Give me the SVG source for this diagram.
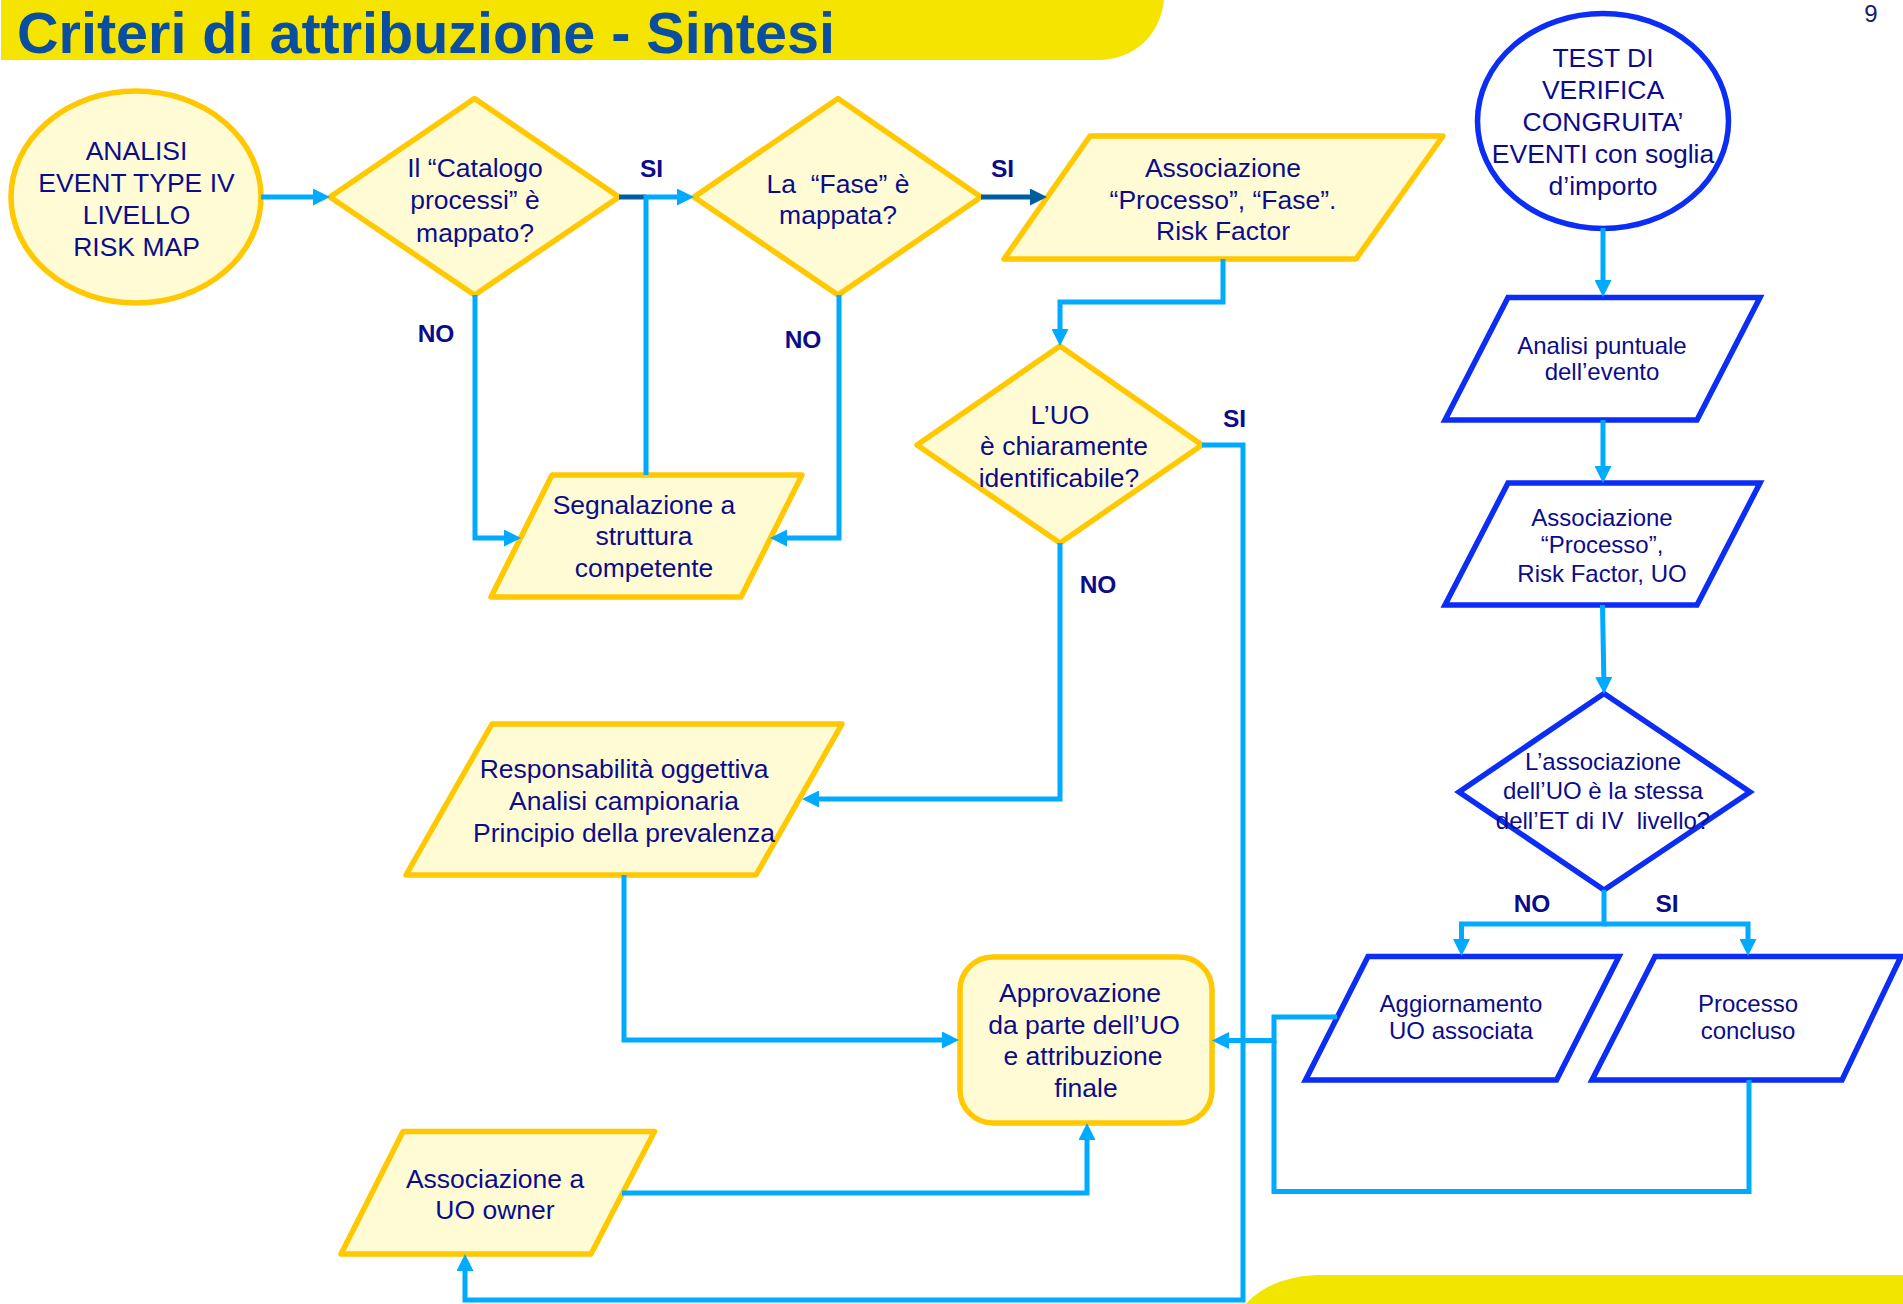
<svg xmlns="http://www.w3.org/2000/svg" width="1903" height="1304" viewBox="0 0 1903 1304">
<defs>
<style>
.yn{fill:#fffcd5;stroke:#ffc800;stroke-width:5.5;stroke-linejoin:round}
.bn{fill:#ffffff;stroke:#0b2df5;stroke-width:5.5;stroke-linejoin:miter}
.t{font-family:"Liberation Sans",Arial,sans-serif;fill:#0c0c8a;text-anchor:middle}
.ty{font-size:26.5px}
.tb{font-size:24px}
.te{font-size:26.5px}
.lbl{font-family:"Liberation Sans",Arial,sans-serif;font-weight:bold;font-size:24.5px;fill:#0c0c8a;text-anchor:middle}
.c{fill:none;stroke:#00aaff;stroke-width:5}
.cd{fill:none;stroke:#005e9f;stroke-width:5}
</style>
<marker id="ah" markerUnits="userSpaceOnUse" markerWidth="17" markerHeight="17" refX="11" refY="8.5" orient="auto"><path d="M0,0 L17,8.5 L0,17 Z" fill="#00aaff"/></marker>
<marker id="ahd" markerUnits="userSpaceOnUse" markerWidth="17" markerHeight="17" refX="11" refY="8.5" orient="auto"><path d="M0,0 L17,8.5 L0,17 Z" fill="#005e9f"/></marker>
</defs>
<rect x="0" y="0" width="1903" height="1304" fill="#ffffff"/>
<g id="decor">
<path d="M1,0 H1164 C1161,28 1142,58 1100,60 H1 Z" fill="#f5e300"/>
<path d="M1246,1304 C1258,1290 1282,1276 1318,1275 H1903 V1304 Z" fill="#f2e500"/>
<text x="17" y="52.5" font-family="Liberation Sans, Arial, sans-serif" font-weight="bold" font-size="57.5" fill="#0a4f9f">Criteri di attribuzione - Sintesi</text>
<text x="1871" y="22" font-family="Liberation Sans, Arial, sans-serif" font-size="24" fill="#1a1a70" text-anchor="middle">9</text>
</g>

<g id="n-analisi">
<ellipse class="yn" cx="136" cy="197" rx="125" ry="106"/>
<text class="t ty"><tspan x="136.5" y="160">ANALISI</tspan><tspan x="136.5" y="192">EVENT TYPE IV</tspan><tspan x="136.5" y="224">LIVELLO</tspan><tspan x="136.5" y="255.5">RISK MAP</tspan></text>
</g>
<g id="n-catalogo">
<polygon class="yn" points="474.5,98.5 619,197 474.5,295 330,197"/>
<text class="t ty"><tspan x="475" y="176.7">Il “Catalogo</tspan><tspan x="475" y="209">processi” è</tspan><tspan x="475" y="241.5">mappato?</tspan></text>
</g>
<g id="n-fase">
<polygon class="yn" points="838,98.5 981,197 838,295 694,197"/>
<text class="t ty"><tspan x="838" y="193.3">La &#160;“Fase” è</tspan><tspan x="838" y="224">mappata?</tspan></text>
</g>
<g id="n-assoc-fase">
<polygon class="yn" points="1090,136 1443,136 1356,259 1004,259"/>
<text class="t ty"><tspan x="1223" y="177">Associazione</tspan><tspan x="1223" y="208.5">“Processo”, “Fase”.</tspan><tspan x="1223" y="240">Risk Factor</tspan></text>
</g>
<g id="n-uo">
<polygon class="yn" points="1060,346 1202,445 1060,543 917,445"/>
<text class="t ty"><tspan x="1060" y="423.5">L’UO</tspan><tspan x="1064" y="455">è chiaramente</tspan><tspan x="1059" y="487">identificabile?</tspan></text>
</g>
<g id="n-segnalazione">
<polygon class="yn" points="552,475 802,475 741,597 491,597"/>
<text class="t ty"><tspan x="644" y="513.5">Segnalazione a</tspan><tspan x="644" y="545">struttura</tspan><tspan x="644" y="577">competente</tspan></text>
</g>
<g id="n-responsabilita">
<polygon class="yn" points="492,724 842,724 756,875 406,875"/>
<text class="t ty"><tspan x="624" y="777.5">Responsabilità oggettiva</tspan><tspan x="624" y="809.5">Analisi campionaria</tspan><tspan x="624" y="841.5">Principio della prevalenza</tspan></text>
</g>
<g id="n-approvazione">
<rect class="yn" x="960" y="957" width="252" height="166" rx="33" ry="33"/>
<text class="t ty"><tspan x="1080" y="1002">Approvazione</tspan><tspan x="1084" y="1033.5">da parte dell’UO</tspan><tspan x="1083" y="1065">e attribuzione</tspan><tspan x="1086" y="1097">finale</tspan></text>
</g>
<g id="n-uo-owner">
<polygon class="yn" points="403,1131.5 654.5,1131.5 591,1254 341,1254"/>
<text class="t ty"><tspan x="495" y="1187.5">Associazione a</tspan><tspan x="495" y="1219">UO owner</tspan></text>
</g>
<g id="n-test">
<ellipse class="bn" cx="1603" cy="121" rx="125.5" ry="107.5"/>
<text class="t te"><tspan x="1603" y="67">TEST DI</tspan><tspan x="1603" y="99">VERIFICA</tspan><tspan x="1603" y="131">CONGRUITA’</tspan><tspan x="1603" y="163">EVENTI con soglia</tspan><tspan x="1603" y="195">d’importo</tspan></text>
</g>
<g id="n-analisi-puntuale">
<polygon class="bn" points="1508,297.5 1760,297.5 1697,420 1445,420"/>
<text class="t tb"><tspan x="1602" y="353.5">Analisi puntuale</tspan><tspan x="1602" y="380">dell’evento</tspan></text>
</g>
<g id="n-assoc-uo">
<polygon class="bn" points="1508,483 1760,483 1697,605 1445,605"/>
<text class="t tb"><tspan x="1602" y="526">Associazione</tspan><tspan x="1602" y="552.5">“Processo”,</tspan><tspan x="1602" y="582">Risk Factor, UO</tspan></text>
</g>
<g id="n-stessa">
<polygon class="bn" points="1604,693.5 1750,792 1604,890 1459,792"/>
<text class="t tb"><tspan x="1603" y="770">L’associazione</tspan><tspan x="1603" y="798.5">dell’UO è la stessa</tspan><tspan x="1603" y="828.5">dell’ET di IV &#160;livello?</tspan></text>
</g>
<g id="n-aggiornamento">
<polygon class="bn" points="1368,956.5 1619,956.5 1556.5,1080 1305.5,1080"/>
<text class="t tb"><tspan x="1461" y="1012">Aggiornamento</tspan><tspan x="1461" y="1038.5">UO associata</tspan></text>
</g>
<g id="n-concluso">
<polygon class="bn" points="1655,956.5 1901,956.5 1842,1080 1592,1080"/>
<text class="t tb"><tspan x="1748" y="1012">Processo</tspan><tspan x="1748" y="1038.5">concluso</tspan></text>
</g>

<g id="connectors">
<path class="c" d="M261,197 H324" marker-end="url(#ah)"/>
<path class="cd" d="M619,197 H646"/>
<path class="c" d="M646,475 V197 H688" marker-end="url(#ah)"/>
<path class="cd" d="M981,197 H1041" marker-end="url(#ahd)"/>
<path class="c" d="M1223,259 V302 H1060 V340" marker-end="url(#ah)"/>
<path class="c" d="M1202,445 H1243 V1300 H465 V1260" marker-end="url(#ah)"/>
<path class="c" d="M1060,543 V799 H808" marker-end="url(#ah)"/>
<path class="c" d="M475,295 V538 H515" marker-end="url(#ah)"/>
<path class="c" d="M839,295 V538 H776" marker-end="url(#ah)"/>
<path class="c" d="M624,875 V1040 H953" marker-end="url(#ah)"/>
<path class="c" d="M622,1193 H1087 V1129" marker-end="url(#ah)"/>
<path class="c" d="M1337,1017 H1274 V1040.5 H1218" marker-end="url(#ah)"/>
<path class="c" d="M1749,1080 V1191.5 H1274 V1040.5"/>
<path class="c" d="M1603,228 V291" marker-end="url(#ah)"/>
<path class="c" d="M1603,420 V477" marker-end="url(#ah)"/>
<path class="c" d="M1602.5,605 L1604,688" marker-end="url(#ah)"/>
<path class="c" d="M1604,890 V924 H1461.5 V950" marker-end="url(#ah)"/>
<path class="c" d="M1604,924 H1748 V950" marker-end="url(#ah)"/>
</g>
<g id="labels">
<text class="lbl" x="651.5" y="176.5">SI</text>
<text class="lbl" x="1002.5" y="176.5">SI</text>
<text class="lbl" x="436" y="342">NO</text>
<text class="lbl" x="803" y="348">NO</text>
<text class="lbl" x="1234.5" y="427">SI</text>
<text class="lbl" x="1098" y="593">NO</text>
<text class="lbl" x="1532" y="911.5">NO</text>
<text class="lbl" x="1667" y="911.5">SI</text>
</g>
</svg>
